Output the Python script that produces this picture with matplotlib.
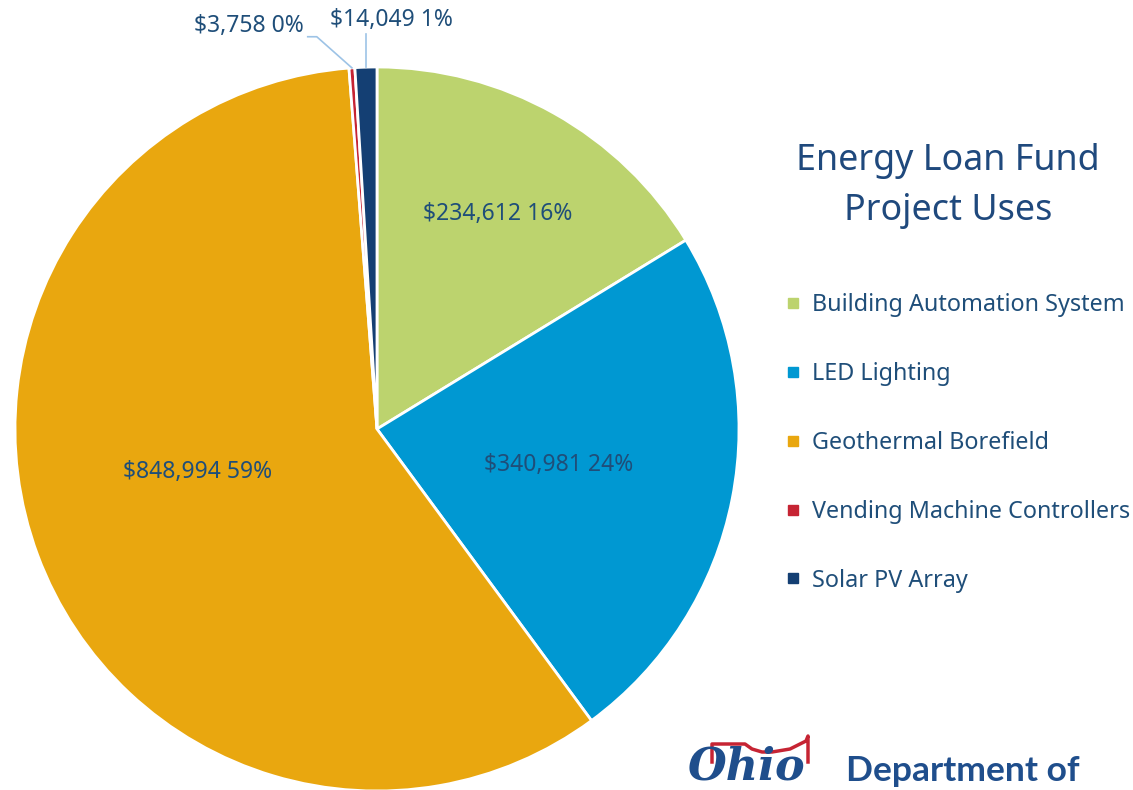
import numpy as np
import matplotlib
matplotlib.use("Agg")
from matplotlib import pyplot as plt
from matplotlib.lines import Line2D

# data
categories = ["Building Automation System", "LED Lighting", "Geothermal Borefield",
              "Vending Machine Controllers", "Solar PV Array"]
amounts = [234612, 340981, 848994, 3758, 14049]
colors = ["#BCD36E", "#0098D2", "#E9A70F", "#C62433", "#143F73"]

# label placement (fraction of radius, angle nudge in degrees); None -> outside with leader
label_r = [0.68, 0.51, 0.51, None, None]
label_dang = [0, 0, -7, 0, 0]

text_col = "#1F4E79"
plt.rcParams["font.family"] = ["Noto Sans", "DejaVu Sans"]

fig = plt.figure(figsize=(11.33, 7.9), dpi=100)
ax = fig.add_axes([15 / 1133, -1 / 790, 724 / 1133, 724 / 790])

wedges, _ = ax.pie(amounts, colors=colors, startangle=90, counterclock=False,
                   wedgeprops=dict(edgecolor="white", linewidth=2))
ax.set_xlim(-1, 1)
ax.set_ylim(-1, 1)
ax.set_aspect("equal")

total = sum(amounts)
fs = 16.5
for i, w in enumerate(wedges):
    pct = amounts[i] / total * 100
    txt = f"${amounts[i]:,} {pct:.0f}%"
    mid = np.deg2rad((w.theta1 + w.theta2) / 2 + label_dang[i])
    if label_r[i] is not None:
        r = label_r[i]
        ax.text(r * np.cos(mid), r * np.sin(mid), txt, ha="center", va="center",
                fontsize=fs, color=text_col)
    else:
        x0, y0 = np.cos(mid), np.sin(mid)
        if i == 3:
            # kinked leader to the left
            ax.plot([x0, x0 - 0.097, x0 - 0.122], [y0, y0 + 0.086, y0 + 0.086],
                    color="#9DC3E6", lw=1.2, clip_on=False)
            ax.text(x0 - 0.134, y0 + 0.116, txt, ha="right", va="center",
                    fontsize=fs, color=text_col)
        else:
            ax.plot([x0, x0], [y0, y0 + 0.093], color="#9DC3E6", lw=1.2, clip_on=False)
            ax.text(x0 + 0.07, y0 + 0.13, txt, ha="center", va="center",
                    fontsize=fs, color=text_col)

fig.text(948 / 1133, 1 - 186 / 790, "Energy Loan Fund\nProject Uses", ha="center",
         va="center", fontsize=25.8, color="#1F497D", linespacing=1.5)

handles = [Line2D([], [], marker="s", linestyle="none", markersize=7,
                  markerfacecolor=c, markeredgecolor=c) for c in colors]
fig.legend(handles, categories, loc="upper left", bbox_to_anchor=(777 / 1133, 1 - 284 / 790),
           frameon=False, fontsize=16.8, labelcolor=text_col, labelspacing=1.92,
           handlelength=0.6, handletextpad=0.5, borderaxespad=0)

# logo at the bottom right (cut off by the page edge)
fig.add_artist(Line2D(np.array([712, 712, 745, 752, 762, 772, 790, 806, 808, 808]) / 1133,
                      1 - np.array([762, 744, 744, 749, 752, 752, 749, 741, 736, 762]) / 790,
                      color="#C62433", lw=2.5))
fig.text(688 / 1133, 1 / 790, "Ohio", ha="left", va="bottom", fontsize=32,
         fontstyle="italic", fontweight="bold", family="DejaVu Serif", color="#1F4E8C")
fig.text(846 / 1133, 1 - 771 / 790, "Department of", ha="left", va="center",
         fontsize=25.5, fontweight="bold", family=["Lato", "DejaVu Sans"], color="#1F4E8C")

fig.savefig("out.png", dpi=100)
